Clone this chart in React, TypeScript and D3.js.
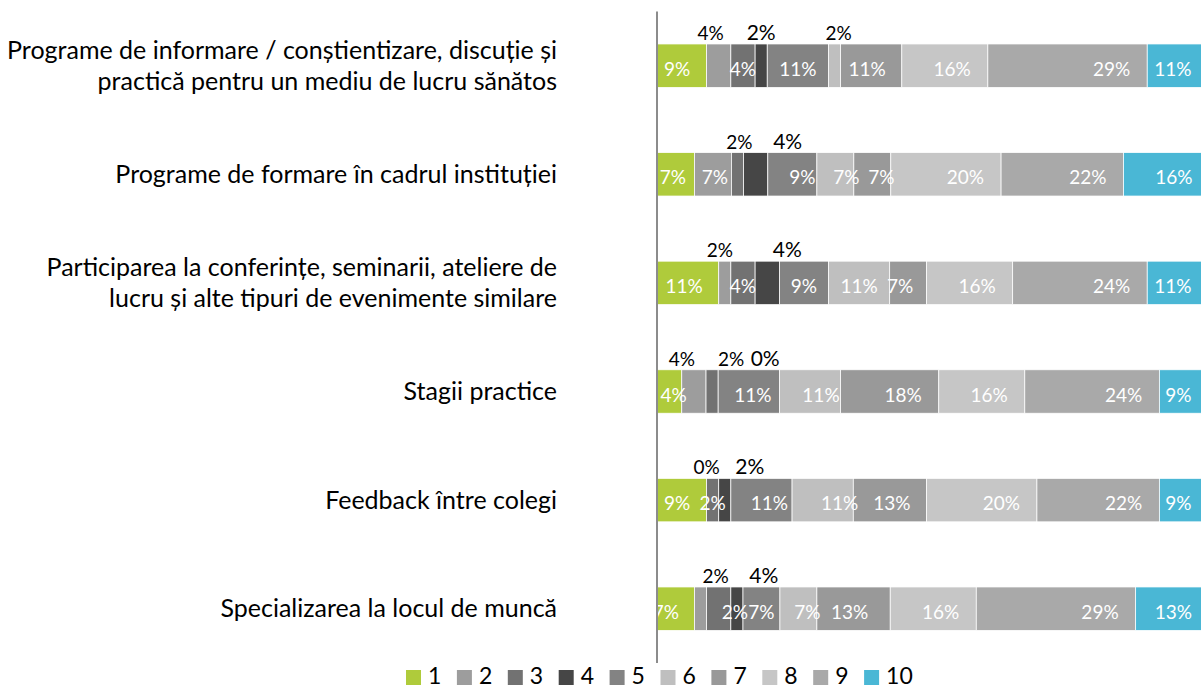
import React from 'react';
import * as d3 from 'd3';

// ---------- data ----------
const categories = [
  'Programe de informare / conștientizare, discuție și practică pentru un mediu de lucru sănătos',
  'Programe de formare în cadrul instituției',
  'Participarea la conferințe, seminarii, ateliere de lucru și alte tipuri de evenimente similare',
  'Stagii practice',
  'Feedback între colegi',
  'Specializarea la locul de muncă',
];

const seriesKeys = ['1', '2', '3', '4', '5', '6', '7', '8', '9', '10'];

// share of answers (%) per score, one value per category
const score1 = [8.9, 6.7, 11.1, 4.4, 8.9, 6.7];
const score2 = [4.4, 6.7, 2.2, 4.4, 0, 2.2];
const score3 = [4.4, 2.2, 4.4, 2.2, 2.2, 4.4];
const score4 = [2.2, 4.4, 4.4, 0, 2.2, 2.2];
const score5 = [11.1, 8.9, 8.9, 11.1, 11.1, 6.7];
const score6 = [2.2, 6.7, 11.1, 11.1, 11.1, 6.7];
const score7 = [11.1, 6.7, 6.7, 17.8, 13.3, 13.3];
const score8 = [15.6, 20.0, 15.6, 15.6, 20.0, 15.6];
const score9 = [28.9, 22.2, 24.4, 24.4, 22.2, 28.9];
const score10 = [11.1, 15.6, 11.1, 8.9, 8.9, 13.3];

const seriesValues = [score1, score2, score3, score4, score5, score6, score7, score8, score9, score10];

// ---------- styles ----------
const colors = ['#AFCB3B', '#9d9d9d', '#727272', '#464646', '#838383', '#bfbfbf', '#999999', '#c6c6c6', '#a9a9a9', '#4AB7D5'];

type Tweak = { above?: boolean; dx?: number; big?: boolean };
// manual placement of data labels, as in the original (row-series)
const labelTweaks: Record<string, Tweak> = {
  '0-0': { dx: -5 }, '0-1': { above: true, dx: -8 }, '0-3': { above: true, big: true }, '0-5': { above: true, dx: 4 }, '0-6': { dx: -4 },
  '1-0': { dx: -3 }, '1-1': { dx: 2 }, '1-2': { above: true, dx: 2 }, '1-3': { above: true, big: true, dx: 32 }, '1-4': { dx: 10 }, '1-5': { dx: 11 }, '1-6': { dx: 9 },
  '2-0': { dx: -4 }, '2-1': { above: true, dx: -5 }, '2-3': { above: true, big: true, dx: 20 }, '2-6': { dx: -8 },
  '3-0': { dx: 4 }, '3-1': { above: true, dx: -12 }, '3-2': { above: true, dx: 19 }, '3-3': { above: true, big: true, dx: 47 }, '3-4': { dx: 4 }, '3-5': { dx: 11 },
  '4-0': { dx: -5 }, '4-1': { above: true }, '4-3': { above: true, big: true, dx: 25 }, '4-4': { dx: 8 }, '4-5': { dx: 17 }, '4-6': { dx: 2 },
  '5-0': { dx: -10 }, '5-1': { above: true, dx: 15 }, '5-2': { above: true, big: true, dx: 45 }, '5-3': { dx: -2 }, '5-5': { dx: 9 }, '5-6': { dx: -4 },
};

const FONT = 'Lato, "Open Sans", sans-serif';
const W = 1201;
const H = 689;
const catFont = 25;
const lblFont = 19;
const bigFont = 21;
const legendFont = 23;

function wrapText(text: string, maxWidth: number, font: string): string[] {
  const canvas = document.createElement('canvas');
  const ctx = canvas.getContext('2d');
  if (!ctx) return [text];
  ctx.font = font;
  const words = text.split(' ');
  const lines: string[] = [];
  let cur = '';
  words.forEach((w) => {
    const test = cur ? cur + ' ' + w : w;
    if (ctx.measureText(test).width > maxWidth && cur) {
      lines.push(cur);
      cur = w;
    } else cur = test;
  });
  if (cur) lines.push(cur);
  return lines;
}

export default function App() {
  const rows = categories.map((c, i) => {
    const r: Record<string, any> = { cat: c };
    seriesKeys.forEach((k, j) => (r[k] = seriesValues[j][i]));
    return r;
  });
  const stacked = d3.stack<Record<string, any>>().keys(seriesKeys)(rows);

  const x = d3.scaleLinear().domain([0, 100]).range([657.5, 1209]);
  const y = d3.scaleBand<string>().domain(categories).range([11.4, 663]).paddingInner(0.6).paddingOuter(0.3);
  const bw = y.bandwidth();
  const color = d3.scaleOrdinal<string, string>().domain(seriesKeys).range(colors);
  const legendX = d3.scaleBand<string>().domain(seriesKeys).range([406, 406 + 10 * 50.9]);
  const fmt = (v: number) => `${Math.round(v)}%`;

  const labelRight = 557;
  const lineH = 31;

  return (
    <svg width={W} height={H} style={{ position: 'absolute', left: 0, top: 0, background: '#fff' }} fontFamily={FONT}>
      <defs>
        <clipPath id="plot">
          <rect x={658} y={0} width={W - 658} height={H} />
        </clipPath>
      </defs>
      {/* category labels */}
      {categories.map((c) => {
        const lines = wrapText(c, 553, `${catFont}px ${FONT}`);
        const cy = (y(c) as number) + bw / 2;
        const start = cy - ((lines.length - 1) * lineH) / 2;
        return (
          <text key={c} textAnchor="end" fontSize={catFont} fill="#000">
            {lines.map((l, i) => (
              <tspan key={i} x={labelRight} y={start + i * lineH + catFont * 0.35}>{l}</tspan>
            ))}
          </text>
        );
      })}
      <g clipPath="url(#plot)">
        {stacked.map((s) => (
          <g key={s.key} fill={color(s.key)}>
            {s.map((d, ri) => (
              <rect key={ri} x={x(d[0])} y={y(categories[ri])} width={Math.max(0, x(d[1]) - x(d[0]))} height={bw}
                stroke="#fff" strokeWidth={0.75} />
            ))}
          </g>
        ))}
        {stacked.map((s, si) =>
          s.map((d, ri) => {
            const v = d[1] - d[0];
            const t = labelTweaks[`${ri}-${si}`] || {};
            const top = y(categories[ri]) as number;
            const dx = t.dx || 0;
            if (t.above) {
              return (
                <text key={`${si}-${ri}`} x={(x(d[0]) + x(d[1])) / 2 + dx} y={top - 4} textAnchor="middle"
                  fontSize={t.big ? bigFont : lblFont} fill="#000">{fmt(v)}</text>
              );
            }
            const atEnd = v >= 15 || s.key === '10';
            return (
              <text key={`${si}-${ri}`} x={atEnd ? x(d[1]) - 17 + dx : (x(d[0]) + x(d[1])) / 2 + dx} y={top + bw / 2 + 10}
                textAnchor={atEnd ? 'end' : 'middle'} fontSize={lblFont} fill="#fff">{fmt(v)}</text>
            );
          })
        )}
      </g>
      <line x1={657} x2={657} y1={11.5} y2={663} stroke="#8c8c8c" strokeWidth={2} />
      {/* legend */}
      {seriesKeys.map((k) => (
        <g key={k} transform={`translate(${legendX(k)},0)`}>
          <rect x={0} y={670} width={15} height={15} fill={color(k)} />
          <text x={22} y={684} fontSize={legendFont} fill="#000">{k}</text>
        </g>
      ))}
    </svg>
  );
}
